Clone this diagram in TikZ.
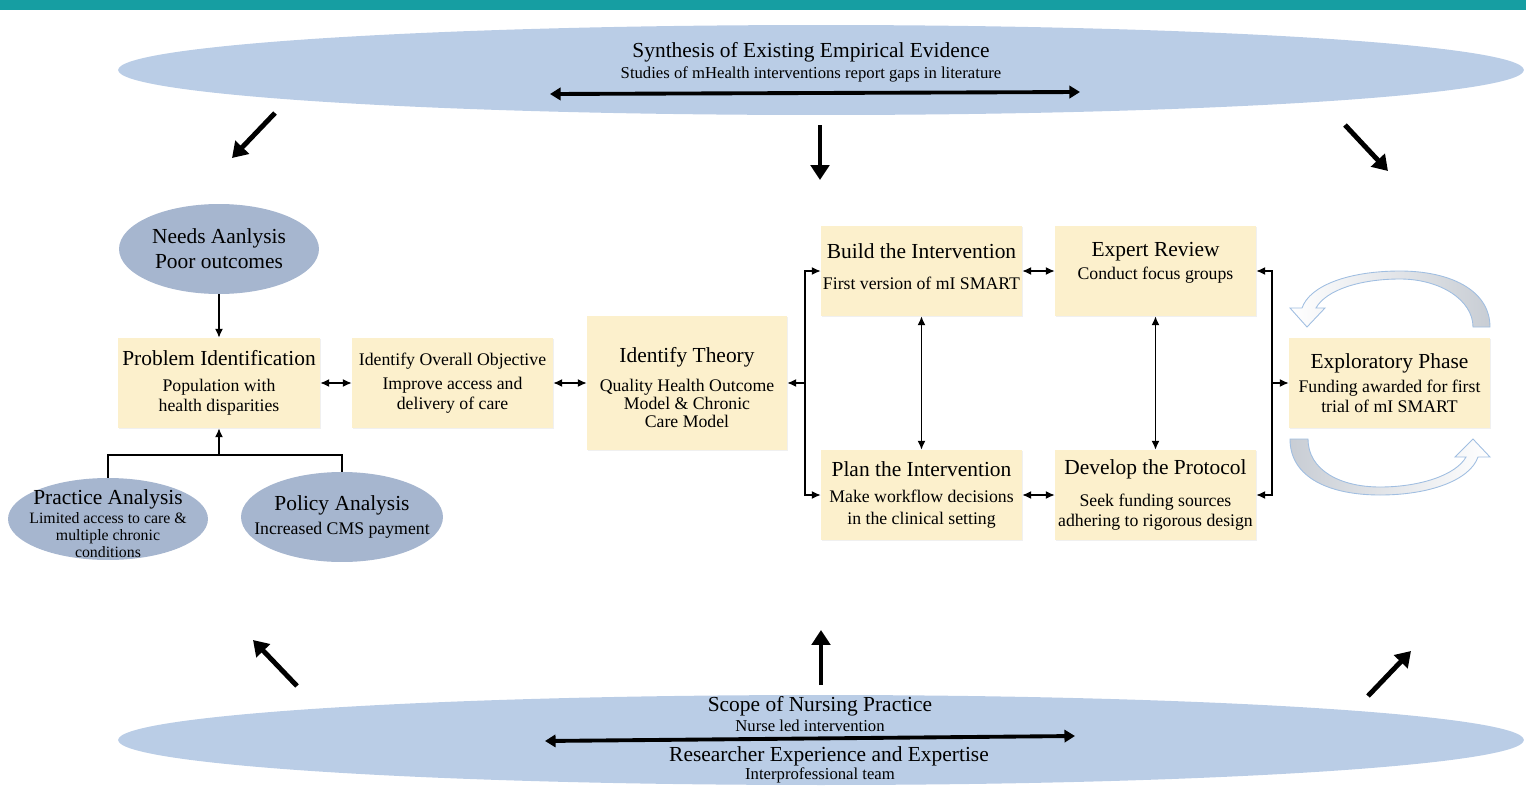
\documentclass[tikz,border=0pt]{standalone}
\usepackage{fontspec}
\setmainfont{Liberation Serif}
\usetikzlibrary{shapes.geometric,arrows.meta,shadows}

\definecolor{bandteal}{RGB}{22,158,162}
\definecolor{lensblue}{RGB}{186,205,230}
\definecolor{ovalblue}{RGB}{166,182,207}
\definecolor{boxyellow}{RGB}{252,240,204}
\definecolor{loopgrey}{RGB}{200,205,212}
\definecolor{loopedge}{RGB}{160,190,225}

\newcommand{\stagetitle}[1]{{\fontsize{12.2}{14}\selectfont #1}}

\tikzstyle{stage}=[rectangle,fill=boxyellow,minimum width=4.04cm,minimum height=1.8cm,inner sep=1pt,align=center,font=\fontsize{10.1}{11.2}\selectfont,drop shadow={opacity=0.12,shadow xshift=0.6pt,shadow yshift=-0.6pt}]
\tikzstyle{analysis}=[ellipse,fill=ovalblue,minimum width=4cm,minimum height=1.8cm,inner sep=-30pt,align=center,font=\fontsize{12.2}{14.2}\selectfont]
\tikzstyle{lens}=[ellipse,fill=lensblue,minimum width=28.12cm,minimum height=1.8cm,inner sep=0pt]
\tikzstyle{link}=[draw,line width=0.7pt,-{Latex[length=5pt,width=4.5pt]}]
\tikzstyle{both link}=[draw,line width=0.7pt,{Latex[length=5pt,width=4.5pt]}-{Latex[length=5pt,width=4.5pt]}]
\tikzstyle{plain link}=[draw,line width=0.7pt]
\tikzstyle{influence}=[draw,line width=2.8pt,-{Triangle[length=8.5pt,width=10.5pt]}]
\tikzstyle{spanarrow}=[draw,line width=2.2pt,{Triangle[length=6pt,width=7pt]}-{Triangle[length=6pt,width=7pt]}]
\tikzstyle{loop arrow}=[draw=loopedge,line width=0.5pt]

\begin{document}
\begin{tikzpicture}[x=0.02cm,y=-0.02cm]
		\useasboundingbox (0,0) rectangle (1526,812);
		\fill[bandteal] (0,0) rectangle (1526,10);
		% The two outer ovals
		\node[lens] (evidence) at (821,70) {};
		\node[lens] (scope) at (821,740) {};
		\node[font=\fontsize{12.2}{14}\selectfont] (synthesis) at (811,52) {Synthesis of Existing Empirical Evidence};
		\node[font=\fontsize{9.5}{11}\selectfont] (gaps) at (811,74) {Studies of mHealth interventions report gaps in literature};
		\node[font=\fontsize{12.2}{14}\selectfont] (nursing) at (820,706) {Scope of Nursing Practice};
		\node[font=\fontsize{9.5}{11}\selectfont] (nurseled) at (810,726) {Nurse led intervention};
		\node[font=\fontsize{12.2}{14}\selectfont] (expertise) at (829,756) {Researcher Experience and Expertise};
		\node[font=\fontsize{9.5}{11}\selectfont] (team) at (820,775) {Interprofessional team};
		\coordinate (topL) at (550,94);
		\coordinate (topR) at (1080,92);
		\coordinate (botL) at (545,741);
		\coordinate (botR) at (1075,736);
		\path[spanarrow] (topL) to (topR);
		\path[spanarrow] (botL) to (botR);
		% Analyses
		\node[analysis] (needs) at (219,249) {Needs Aanlysis\\Poor outcomes};
		\node[analysis,minimum height=1.64cm,font=\fontsize{9}{9.6}\selectfont] (practice) at (108,519) {\mbox{}\\[4pt] \stagetitle{Practice Analysis}\\[1pt] Limited access to care \&\\ multiple chronic\\ conditions};
		\node[analysis,minimum width=4.04cm,font=\fontsize{10.1}{11.2}\selectfont] (policy) at (342,517) {\stagetitle{Policy Analysis}\\[2.5pt] Increased CMS payment};
		% Stages
		\node[stage] (problem) at (219,383) {\stagetitle{Problem Identification}\\[3.5pt] Population with\\ health disparities};
		\node[stage,minimum width=4.02cm] (objective) at (452.5,383) {Identify Overall Objective\\[2.5pt] Improve access and\\ delivery of care};
		\node[stage,minimum width=4cm,minimum height=2.68cm] (theory) at (687,383) {\mbox{}\\[3pt] \stagetitle{Identify Theory}\\[5pt] Quality Health Outcome\\[-0.8pt] Model \& Chronic\\[-0.8pt] Care Model};
		\node[stage,minimum width=4.02cm] (build) at (921.5,271) {\stagetitle{Build the Intervention}\\[6.5pt] First version of mI SMART\\[-6pt] \mbox{}};
		\node[stage,minimum width=4.02cm] (expert) at (1155.5,271) {\stagetitle{Expert Review}\\[2pt] Conduct focus groups\\ \mbox{}};
		\node[stage,minimum width=4.02cm] (plan) at (921.5,495) {\stagetitle{Plan the Intervention}\\[3.5pt] Make workflow decisions\\[1.5pt] in the clinical setting};
		\node[stage,minimum width=4.02cm] (develop) at (1155.5,495) {\stagetitle{Develop the Protocol}\\[7pt] Seek funding sources\\ adhering to rigorous design};
		\node[stage,minimum width=4.02cm] (explore) at (1389.5,383) {\stagetitle{Exploratory Phase}\\[3pt] Funding awarded for first\\ trial of mI SMART};
		% Connect the analyses with the problem
		\coordinate (pjoin) at (219,455);
		\path[link] (needs) to (problem);
		\path[plain link] (practice.north) |- (pjoin) -| (policy.north);
		\path[link] (pjoin) to (problem);
		% Connect the stages with edges
		\foreach \source/ \dest in {problem/objective, objective/theory, build/expert, plan/develop, build/plan, expert/develop}
		\path[both link] (\source) to (\dest);
		\coordinate (lsplit) at (805,383);
		\coordinate (rsplit) at (1272,383);
		\path[link] (lsplit) to (theory);
		\path[link] (lsplit) |- (build);
		\path[link] (lsplit) |- (plan);
		\path[link] (rsplit) |- (expert);
		\path[link] (rsplit) |- (develop);
		\path[link] (rsplit) to (explore);
		% Thick arrows from and to the ovals
		\foreach \name/\x/\y in {nwTail/275/113, nwTip/232/158, nTail/820/125, nTip/820/180, neTail/1345/125, neTip/1388/171,
			swTail/297/686, swTip/253/640, sTail/821/685, sTip/821/630, seTail/1368/696, seTip/1411/651}
		\coordinate (\name) at (\x,\y);
		\foreach \source/ \dest in {nwTail/nwTip, nTail/nTip, neTail/neTip, swTail/swTip, sTail/sTip, seTail/seTip}
		\path[influence] (\source) to (\dest);
		% Loop arrows round the exploratory phase
		\path[loop arrow,left color=white,right color=loopgrey] (1490,327) .. controls (1490,290) and (1450,271) .. (1400,271)
			.. controls (1350,271) and (1310,285) .. (1302,308) -- (1290,308) -- (1307,327) -- (1325,308) -- (1316,308)
			.. controls (1326,290) and (1360,279) .. (1400,279) .. controls (1440,279) and (1473,300) .. (1473,327) -- cycle;
		\path[loop arrow,left color=loopgrey,right color=white] (1290,439) .. controls (1290,478) and (1330,495) .. (1380,495)
			.. controls (1430,495) and (1470,480) .. (1478,457) -- (1490,457) -- (1473,439) -- (1455,457) -- (1466,457)
			.. controls (1456,475) and (1420,487) .. (1380,487) .. controls (1340,487) and (1308,470) .. (1308,439) -- cycle;
\end{tikzpicture}
\end{document}
